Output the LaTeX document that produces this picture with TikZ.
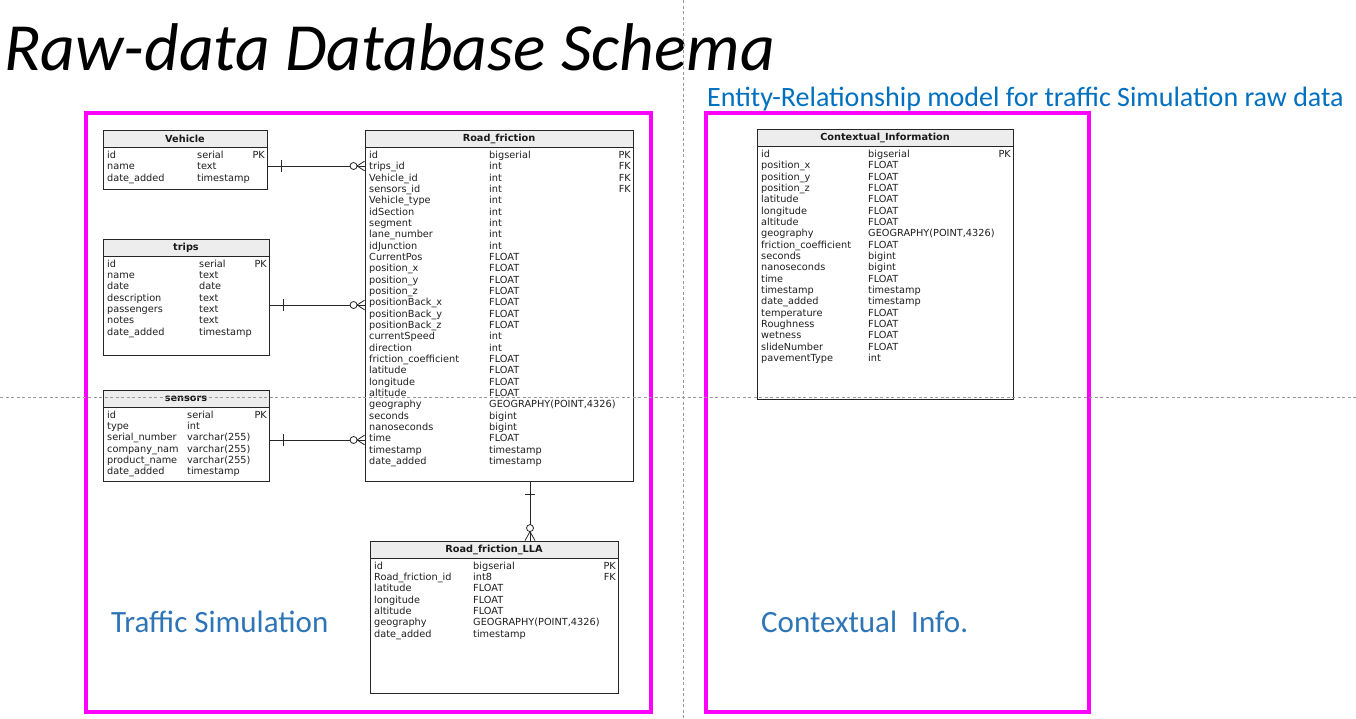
\documentclass[tikz,border=0pt]{standalone}
\usepackage{fontspec}
\setmainfont{DejaVu Sans}
\newfontfamily\titlefont{Carlito}
\usetikzlibrary{fit,calc}
\definecolor{mag}{HTML}{FF00FF}
\definecolor{erblue}{HTML}{0070C0}
\definecolor{lblblue}{HTML}{2E75B6}
\newcommand\fieldfont{\fontsize{9.75}{11}\selectfont}
\tikzset{
  tablebox/.style={draw=black!85, line width=0.9pt, inner sep=0pt},
  headfill/.style={fill=black!7},
  fieldtxt/.style={anchor=base west, inner sep=0pt, font=\fieldfont, text=black!88},
  keytxt/.style={anchor=base east, inner sep=0pt, font=\fieldfont, text=black!88},
  tabtitle/.style={inner sep=0pt, font=\fieldfont\bfseries, text=black!90},
  erline/.style={draw=black!85, line width=0.8pt},
  areabox/.style={draw=mag, line width=4pt},
  guide/.style={draw=black!40, line width=0.6pt, dash pattern=on 3pt off 2.5pt},
  bluelbl/.style={inner sep=0pt, anchor=base west, text=lblblue, font=\titlefont\fontsize{31}{35}\selectfont}
}
% #1 name, #2 x1, #3 y1, #4 x2, #5 y2, #6 title, #7 col2 x, #8 first baseline offset, #9 rows
\newcommand\ertab[9]{%
  \fill[headfill] (#2,#3) rectangle (#4,#3+17);
  \draw[erline] (#2,#3+17) -- (#4,#3+17);
  \node[tablebox, fit={(#2,#3) (#4,#5)}] (#1) {};
  \node[tabtitle] (#1-title) at ({(#2+#4)/2},#3+8.5) {#6};
  \foreach \f/\t/\k [count=\i from 0] in {#9} {
    \node[fieldtxt] (#1-f\i) at (#2+4,#3+#8+\i*11.333) {\f};
    \node[fieldtxt] (#1-t\i) at (#7,#3+#8+\i*11.333) {\t};
    \node[keytxt] (#1-k\i) at (#4-2,#3+#8+\i*11.333) {\k};
  }
}
\newcommand\linkh[2]{%
  \draw[erline] (#1) -- (#2);
  \draw[erline] ($(#1)+(14,-6)$) -- ($(#1)+(14,6)$);
  \draw[erline] ($(#2)+(-7.5,0)$) -- ($(#2)+(0,-4.8)$) ($(#2)+(-7.5,0)$) -- ($(#2)+(0,4.8)$);
  \draw[erline, fill=white] ($(#2)+(-11,0)$) circle (3.5);
}
\newcommand\linkv[2]{%
  \draw[erline] (#1) -- (#2);
  \draw[erline] ($(#1)+(-5,13)$) -- ($(#1)+(5,13)$);
  \draw[erline] ($(#2)+(0,-9)$) -- ($(#2)+(-5,0)$) ($(#2)+(0,-9)$) -- ($(#2)+(5,0)$);
  \draw[erline, fill=white] ($(#2)+(0,-12.5)$) circle (3.5);
}
\begin{document}
\begin{tikzpicture}[x=1pt,y=-1pt]
\useasboundingbox (0,0) rectangle (1356,718);
\fill[white] (0,0) rectangle (1356,718);

% titles
\node[inner sep=0pt, anchor=base west, font=\titlefont\itshape\fontsize{67.5}{72}\selectfont] (title) at (4,70) {Raw-data Database Schema};
\node[inner sep=0pt, anchor=base west, text=erblue, font=\titlefont\fontsize{28}{31}\selectfont] (subtitle) at (707,106) {Entity-Relationship model for traffic Simulation raw data};

% area boxes
\node[areabox, inner sep=0pt, fit={(86,113) (651,712)}] (leftarea) {};
\node[areabox, inner sep=0pt, fit={(706,113) (1089,712)}] (rightarea) {};
\node[bluelbl] (lbltraffic) at (111,632) {Traffic Simulation};
\node[bluelbl] (lblctx) at (761,632) {Contextual~~Info.};

% tables
\ertab{veh}{103}{130}{267}{189}{Vehicle}{197}{28.5}{id/serial/PK, name/text/, date\_added/timestamp/}
\ertab{trips}{103}{239}{269}{355}{trips}{199}{28}{id/serial/PK, name/text/, date/date/, description/text/, passengers/text/, notes/text/, date\_added/timestamp/}
\ertab{sens}{103}{390}{269}{481}{sensors}{187}{28}{id/serial/PK, type/int/, serial\_number/varchar(255)/, company\_nam/varchar(255)/, product\_name/varchar(255)/, date\_added/timestamp/}
\ertab{rf}{365}{130}{633}{481}{Road\_friction}{489}{28.5}{id/bigserial/PK, trips\_id/int/FK, Vehicle\_id/int/FK, sensors\_id/int/FK, Vehicle\_type/int/, idSection/int/, segment/int/, lane\_number/int/, idJunction/int/, CurrentPos/FLOAT/, position\_x/FLOAT/, position\_y/FLOAT/, position\_z/FLOAT/, positionBack\_x/FLOAT/, positionBack\_y/FLOAT/, positionBack\_z/FLOAT/, currentSpeed/int/, direction/int/, friction\_coefficient/FLOAT/, latitude/FLOAT/, longitude/FLOAT/, altitude/FLOAT/, geography/GEOGRAPHY(POINT{,}4326)/, seconds/bigint/, nanoseconds/bigint/, time/FLOAT/, timestamp/timestamp/, date\_added/timestamp/}
\ertab{lla}{370}{541}{618}{693}{Road\_friction\_LLA}{473}{28}{id/bigserial/PK, Road\_friction\_id/int8/FK, latitude/FLOAT/, longitude/FLOAT/, altitude/FLOAT/, geography/GEOGRAPHY(POINT{,}4326)/, date\_added/timestamp/}
\ertab{ctx}{757}{129}{1013}{399}{Contextual\_Information}{868}{28.5}{id/bigserial/PK, position\_x/FLOAT/, position\_y/FLOAT/, position\_z/FLOAT/, latitude/FLOAT/, longitude/FLOAT/, altitude/FLOAT/, geography/GEOGRAPHY(POINT{,}4326)/, friction\_coefficient/FLOAT/, seconds/bigint/, nanoseconds/bigint/, time/FLOAT/, timestamp/timestamp/, date\_added/timestamp/, temperature/FLOAT/, Roughness/FLOAT/, wetness/FLOAT/, slideNumber/FLOAT/, pavementType/int/}

% connectors
\coordinate (vehR) at (veh.east |- 0,166);
\coordinate (rfL1) at (rf.west |- 0,166);
\coordinate (tripsR) at (trips.east |- 0,305);
\coordinate (rfL2) at (rf.west |- 0,305);
\coordinate (sensR) at (sens.east |- 0,440);
\coordinate (rfL3) at (rf.west |- 0,440);
\coordinate (rfB) at (rf.south -| 530,0);
\coordinate (llaT) at (lla.north -| 530,0);
\linkh{vehR}{rfL1}
\linkh{tripsR}{rfL2}
\linkh{sensR}{rfL3}
\linkv{rfB}{llaT}

% guides
\coordinate (gTop) at (683,0);
\coordinate (gBot) at (683,718);
\coordinate (gLeft) at (0,397);
\coordinate (gRight) at (1356,397);
\draw[guide] (gTop) -- (gBot);
\draw[guide] (gLeft) -- (gRight);
\end{tikzpicture}
\end{document}
